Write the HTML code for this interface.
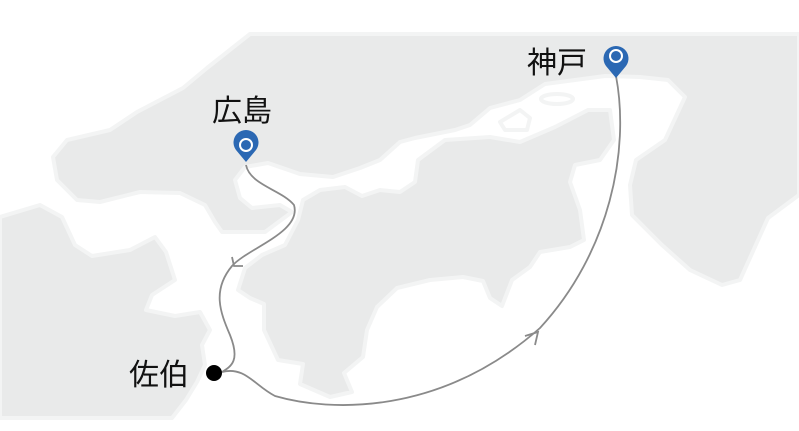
<!DOCTYPE html>
<html><head><meta charset="utf-8"><style>
html,body{margin:0;padding:0;background:#fff;}
svg{display:block}
text{font-family:"Liberation Sans","Noto Sans CJK JP",sans-serif;font-size:30px;fill:#111}
</style></head><body>
<svg width="799" height="431" viewBox="0 0 799 431" xmlns="http://www.w3.org/2000/svg">
<g fill="#e9eaea" stroke="#f3f4f4" stroke-width="4" stroke-linejoin="round">
<path d="M250,34 L799,34 L799,195 L768,218 L740,280 L722,285 L690,270 L662,245 L632,215 L630,185 L636,160 L665,140 L685,97 L668,80 L640,77 L605,76 L575,80 L545,84 L520,100 L490,108 L470,125 L455,130 L415,138 L400,142 L380,160 L360,168 L333,177 L300,174 L268,163 L245,167 L235,180 L240,198 L252,208 L280,205 L292,212 L265,232 L222,232 L215,222 L205,205 L180,193 L140,192 L100,202 L77,200 L57,180 L53,157 L67,140 L110,130 L137,112 L183,88 L207,68 Z"/>
<path d="M303,200 L320,190 L345,187 L362,196 L380,190 L400,192 L415,182 L418,160 L445,140 L490,137 L520,142 L555,127 L588,110 L610,110 L614,140 L600,160 L575,165 L570,182 L580,210 L584,240 L570,247 L540,252 L530,267 L512,280 L502,306 L490,298 L483,281 L463,277 L430,280 L397,288 L377,307 L367,330 L363,357 L344,373 L352,392 L330,397 L300,384 L303,364 L278,360 L264,330 L264,304 L250,298 L238,290 L245,268 L262,255 L285,245 L298,220 Z"/>
<path d="M0,217 L40,205 L62,217 L75,245 L92,256 L130,250 L155,237 L166,252 L175,280 L152,295 L146,310 L175,316 L200,312 L210,330 L202,345 L205,365 L197,382 L186,400 L172,418 L0,418 Z"/>
<ellipse cx="557" cy="99" rx="16" ry="5" fill="#fff" stroke="#f3f4f4"/>
<path d="M500,122 L520,110 L530,118 L527,130 L505,130 Z" fill="#fff"/>
</g>
<g fill="none" stroke="#8a8a8a" stroke-width="1.8">
<path d="M246,165 C250,185 282,190 294,205 C302,232 248,248 232,266 C212,290 220,312 230,335 C240,360 232,366 222,372"/>
<path d="M232,257 L234,266 L243,266"/>
<path d="M222,372 C245,366 255,386 275,396 C330,412 440,416 540,328 C610,252 630,150 616,76"/>
<path d="M525,336 L538,332 L535,345"/>
</g>
<g>
<path d="M246,162 L236,150 A12.5,12.5 0 1 1 256,150 Z" fill="#2b68b3"/>
<circle cx="246" cy="145" r="6" fill="#2b68b3" stroke="#fff" stroke-width="2"/>
<path d="M616,78 L606,66 A12.5,12.5 0 1 1 626,66 Z" fill="#2b68b3"/>
<circle cx="616" cy="56" r="6" fill="#2b68b3" stroke="#fff" stroke-width="2"/>
</g>
<circle cx="214" cy="373" r="8" fill="#000"/>
<text x="212" y="121">広島</text>
<text x="527" y="73">神戸</text>
<text x="129" y="385">佐伯</text>
</svg>
</body></html>
